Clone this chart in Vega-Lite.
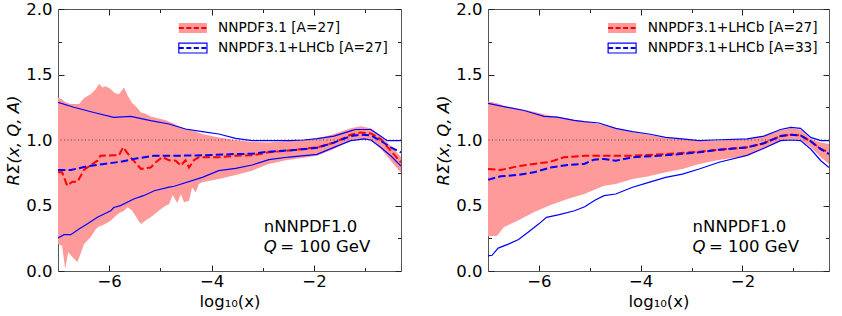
{
"$schema":"https://vega.github.io/schema/vega-lite/v6.json",
"autosize":{"type":"pad"},
"padding":{"left":5,"top":1,"right":5,"bottom":0},
"config":{
 "font":"DejaVu Sans",
 "view":{"stroke":null},
 "axis":{"labelFont":"DejaVu Sans","labelFontSize":16.5,"labelColor":"#000","titleFont":"DejaVu Sans","titleFontSize":16.5,"titleFontWeight":"normal","titleColor":"#000","tickColor":"#222","tickWidth":1,"domainColor":"#555","domainWidth":1,"grid":false,"labelOverlap":false,"labelFlush":false,"zindex":1}
},
"datasets":{
 "band":[
  {"p":"A","x":-7.0,"lo":0.206,"hi":1.325},
  {"p":"A","x":-6.92,"lo":0.193,"hi":1.31},
  {"p":"A","x":-6.86,"lo":0.015,"hi":1.29},
  {"p":"A","x":-6.80,"lo":0.145,"hi":1.28},
  {"p":"A","x":-6.75,"lo":0.12,"hi":1.275},
  {"p":"A","x":-6.72,"lo":0.107,"hi":1.275},
  {"p":"A","x":-6.62,"lo":0.069,"hi":1.275},
  {"p":"A","x":-6.59,"lo":0.10,"hi":1.275},
  {"p":"A","x":-6.49,"lo":0.206,"hi":1.32},
  {"p":"A","x":-6.36,"lo":0.259,"hi":1.35},
  {"p":"A","x":-6.26,"lo":0.32,"hi":1.39},
  {"p":"A","x":-6.20,"lo":0.34,"hi":1.43},
  {"p":"A","x":-6.13,"lo":0.35,"hi":1.40},
  {"p":"A","x":-6.07,"lo":0.36,"hi":1.41},
  {"p":"A","x":-5.97,"lo":0.384,"hi":1.39},
  {"p":"A","x":-5.90,"lo":0.41,"hi":1.36},
  {"p":"A","x":-5.81,"lo":0.44,"hi":1.35},
  {"p":"A","x":-5.71,"lo":0.46,"hi":1.40},
  {"p":"A","x":-5.64,"lo":0.486,"hi":1.34},
  {"p":"A","x":-5.55,"lo":0.46,"hi":1.28},
  {"p":"A","x":-5.51,"lo":0.435,"hi":1.27},
  {"p":"A","x":-5.42,"lo":0.38,"hi":1.23},
  {"p":"A","x":-5.38,"lo":0.359,"hi":1.21},
  {"p":"A","x":-5.29,"lo":0.385,"hi":1.20},
  {"p":"A","x":-5.19,"lo":0.41,"hi":1.18},
  {"p":"A","x":-5.09,"lo":0.44,"hi":1.17},
  {"p":"A","x":-4.99,"lo":0.473,"hi":1.16},
  {"p":"A","x":-4.89,"lo":0.50,"hi":1.15},
  {"p":"A","x":-4.83,"lo":0.51,"hi":1.14},
  {"p":"A","x":-4.76,"lo":0.58,"hi":1.13},
  {"p":"A","x":-4.67,"lo":0.52,"hi":1.11},
  {"p":"A","x":-4.60,"lo":0.588,"hi":1.10},
  {"p":"A","x":-4.54,"lo":0.524,"hi":1.09},
  {"p":"A","x":-4.44,"lo":0.537,"hi":1.08},
  {"p":"A","x":-4.38,"lo":0.639,"hi":1.075},
  {"p":"A","x":-4.31,"lo":0.60,"hi":1.065},
  {"p":"A","x":-4.25,"lo":0.664,"hi":1.055},
  {"p":"A","x":-4.18,"lo":0.677,"hi":1.046},
  {"p":"A","x":-3.86,"lo":0.702,"hi":1.02},
  {"p":"A","x":-3.53,"lo":0.733,"hi":1.0},
  {"p":"A","x":-3.21,"lo":0.766,"hi":0.985},
  {"p":"A","x":-2.88,"lo":0.817,"hi":0.98},
  {"p":"A","x":-2.55,"lo":0.845,"hi":0.99},
  {"p":"A","x":-2.20,"lo":0.865,"hi":1.0},
  {"p":"A","x":-1.94,"lo":0.88,"hi":1.01},
  {"p":"A","x":-1.61,"lo":0.931,"hi":1.046},
  {"p":"A","x":-1.28,"lo":1.0,"hi":1.089},
  {"p":"A","x":-1.09,"lo":1.008,"hi":1.105},
  {"p":"A","x":-0.89,"lo":1.0,"hi":1.089},
  {"p":"A","x":-0.70,"lo":0.937,"hi":1.03},
  {"p":"A","x":-0.50,"lo":0.842,"hi":0.957},
  {"p":"A","x":-0.30,"lo":0.75,"hi":0.87},
  {"p":"B","x":-7.0,"lo":0.265,"hi":1.295},
  {"p":"B","x":-6.82,"lo":0.27,"hi":1.28},
  {"p":"B","x":-6.69,"lo":0.334,"hi":1.262},
  {"p":"B","x":-6.42,"lo":0.384,"hi":1.24},
  {"p":"B","x":-6.10,"lo":0.448,"hi":1.215},
  {"p":"B","x":-5.77,"lo":0.504,"hi":1.186},
  {"p":"B","x":-5.44,"lo":0.55,"hi":1.165},
  {"p":"B","x":-5.11,"lo":0.588,"hi":1.143},
  {"p":"B","x":-4.72,"lo":0.651,"hi":1.115},
  {"p":"B","x":-4.49,"lo":0.664,"hi":1.085},
  {"p":"B","x":-4.16,"lo":0.702,"hi":1.06},
  {"p":"B","x":-3.84,"lo":0.723,"hi":1.04},
  {"p":"B","x":-3.51,"lo":0.753,"hi":1.015},
  {"p":"B","x":-3.18,"lo":0.779,"hi":1.005},
  {"p":"B","x":-2.85,"lo":0.817,"hi":0.995},
  {"p":"B","x":-2.50,"lo":0.845,"hi":0.995},
  {"p":"B","x":-1.91,"lo":0.88,"hi":1.005},
  {"p":"B","x":-1.58,"lo":0.931,"hi":1.03},
  {"p":"B","x":-1.25,"lo":0.995,"hi":1.075},
  {"p":"B","x":-1.05,"lo":1.008,"hi":1.09},
  {"p":"B","x":-0.86,"lo":1.0,"hi":1.08},
  {"p":"B","x":-0.66,"lo":0.944,"hi":1.01},
  {"p":"B","x":-0.46,"lo":0.868,"hi":0.98},
  {"p":"B","x":-0.30,"lo":0.817,"hi":0.97}
 ],
 "line":[
  {"p":"A","s":"bh","x":-7.0,"y":1.288},{"p":"A","s":"bh","x":-6.69,"y":1.25},{"p":"A","s":"bh","x":-6.30,"y":1.21},{"p":"A","s":"bh","x":-5.91,"y":1.173},{"p":"A","s":"bh","x":-5.58,"y":1.18},{"p":"A","s":"bh","x":-5.19,"y":1.148},{"p":"A","s":"bh","x":-4.83,"y":1.122},{"p":"A","s":"bh","x":-4.51,"y":1.084},{"p":"A","s":"bh","x":-4.18,"y":1.064},{"p":"A","s":"bh","x":-3.86,"y":1.046},{"p":"A","s":"bh","x":-3.53,"y":1.013},{"p":"A","s":"bh","x":-3.21,"y":0.995},{"p":"A","s":"bh","x":-2.88,"y":0.995},{"p":"A","s":"bh","x":-2.49,"y":0.995},{"p":"A","s":"bh","x":-2.2,"y":1.0},{"p":"A","s":"bh","x":-1.94,"y":1.01},{"p":"A","s":"bh","x":-1.61,"y":1.03},{"p":"A","s":"bh","x":-1.28,"y":1.07},{"p":"A","s":"bh","x":-1.19,"y":1.08},{"p":"A","s":"bh","x":-0.89,"y":1.08},{"p":"A","s":"bh","x":-0.70,"y":1.03},{"p":"A","s":"bh","x":-0.57,"y":0.995},{"p":"A","s":"bh","x":-0.30,"y":0.995},
  {"p":"A","s":"bl","x":-7.0,"y":0.252},{"p":"A","s":"bl","x":-6.88,"y":0.277},{"p":"A","s":"bl","x":-6.75,"y":0.277},{"p":"A","s":"bl","x":-6.59,"y":0.32},{"p":"A","s":"bl","x":-6.43,"y":0.359},{"p":"A","s":"bl","x":-6.23,"y":0.41},{"p":"A","s":"bl","x":-5.97,"y":0.46},{"p":"A","s":"bl","x":-5.91,"y":0.485},{"p":"A","s":"bl","x":-5.78,"y":0.499},{"p":"A","s":"bl","x":-5.52,"y":0.55},{"p":"A","s":"bl","x":-5.33,"y":0.575},{"p":"A","s":"bl","x":-5.12,"y":0.613},{"p":"A","s":"bl","x":-4.83,"y":0.64},{"p":"A","s":"bl","x":-4.73,"y":0.647},{"p":"A","s":"bl","x":-4.18,"y":0.715},{"p":"A","s":"bl","x":-3.86,"y":0.766},{"p":"A","s":"bl","x":-3.53,"y":0.783},{"p":"A","s":"bl","x":-3.21,"y":0.809},{"p":"A","s":"bl","x":-2.88,"y":0.85},{"p":"A","s":"bl","x":-2.49,"y":0.87},{"p":"A","s":"bl","x":-1.94,"y":0.89},{"p":"A","s":"bl","x":-1.61,"y":0.944},{"p":"A","s":"bl","x":-1.28,"y":0.995},{"p":"A","s":"bl","x":-1.02,"y":1.008},{"p":"A","s":"bl","x":-0.89,"y":1.0},{"p":"A","s":"bl","x":-0.70,"y":0.944},{"p":"A","s":"bl","x":-0.50,"y":0.88},{"p":"A","s":"bl","x":-0.30,"y":0.80},
  {"p":"A","s":"rc","x":-7.0,"y":0.753},{"p":"A","s":"rc","x":-6.92,"y":0.753},{"p":"A","s":"rc","x":-6.82,"y":0.651},{"p":"A","s":"rc","x":-6.72,"y":0.682},{"p":"A","s":"rc","x":-6.62,"y":0.682},{"p":"A","s":"rc","x":-6.49,"y":0.773},{"p":"A","s":"rc","x":-6.23,"y":0.842},{"p":"A","s":"rc","x":-6.17,"y":0.88},{"p":"A","s":"rc","x":-5.91,"y":0.883},{"p":"A","s":"rc","x":-5.81,"y":0.883},{"p":"A","s":"rc","x":-5.73,"y":0.944},{"p":"A","s":"rc","x":-5.58,"y":0.868},{"p":"A","s":"rc","x":-5.38,"y":0.779},{"p":"A","s":"rc","x":-5.19,"y":0.79},{"p":"A","s":"rc","x":-5.09,"y":0.83},{"p":"A","s":"rc","x":-4.96,"y":0.87},{"p":"A","s":"rc","x":-4.83,"y":0.845},{"p":"A","s":"rc","x":-4.70,"y":0.842},{"p":"A","s":"rc","x":-4.60,"y":0.804},{"p":"A","s":"rc","x":-4.51,"y":0.845},{"p":"A","s":"rc","x":-4.44,"y":0.79},{"p":"A","s":"rc","x":-4.34,"y":0.848},{"p":"A","s":"rc","x":-4.25,"y":0.868},{"p":"A","s":"rc","x":-3.86,"y":0.868},{"p":"A","s":"rc","x":-3.53,"y":0.88},{"p":"A","s":"rc","x":-3.21,"y":0.883},{"p":"A","s":"rc","x":-2.88,"y":0.906},{"p":"A","s":"rc","x":-2.49,"y":0.92},{"p":"A","s":"rc","x":-1.94,"y":0.944},{"p":"A","s":"rc","x":-1.61,"y":0.98},{"p":"A","s":"rc","x":-1.28,"y":1.04},{"p":"A","s":"rc","x":-1.09,"y":1.058},{"p":"A","s":"rc","x":-0.89,"y":1.05},{"p":"A","s":"rc","x":-0.70,"y":1.008},{"p":"A","s":"rc","x":-0.50,"y":0.918},{"p":"A","s":"rc","x":-0.30,"y":0.83},
  {"p":"A","s":"bc","x":-7.0,"y":0.771},{"p":"A","s":"bc","x":-6.75,"y":0.771},{"p":"A","s":"bc","x":-6.43,"y":0.799},{"p":"A","s":"bc","x":-6.10,"y":0.817},{"p":"A","s":"bc","x":-5.78,"y":0.834},{"p":"A","s":"bc","x":-5.45,"y":0.86},{"p":"A","s":"bc","x":-5.12,"y":0.88},{"p":"A","s":"bc","x":-4.73,"y":0.88},{"p":"A","s":"bc","x":-4.18,"y":0.883},{"p":"A","s":"bc","x":-3.53,"y":0.893},{"p":"A","s":"bc","x":-3.21,"y":0.895},{"p":"A","s":"bc","x":-2.88,"y":0.911},{"p":"A","s":"bc","x":-2.49,"y":0.92},{"p":"A","s":"bc","x":-1.94,"y":0.94},{"p":"A","s":"bc","x":-1.61,"y":0.98},{"p":"A","s":"bc","x":-1.28,"y":1.03},{"p":"A","s":"bc","x":-1.09,"y":1.04},{"p":"A","s":"bc","x":-0.89,"y":1.035},{"p":"A","s":"bc","x":-0.70,"y":0.995},{"p":"A","s":"bc","x":-0.50,"y":0.944},{"p":"A","s":"bc","x":-0.30,"y":0.905},
  {"p":"B","s":"bh","x":-7.0,"y":1.28},{"p":"B","s":"bh","x":-6.69,"y":1.255},{"p":"B","s":"bh","x":-6.29,"y":1.225},{"p":"B","s":"bh","x":-5.90,"y":1.18},{"p":"B","s":"bh","x":-5.64,"y":1.175},{"p":"B","s":"bh","x":-5.31,"y":1.15},{"p":"B","s":"bh","x":-5.11,"y":1.14},{"p":"B","s":"bh","x":-4.82,"y":1.13},{"p":"B","s":"bh","x":-4.49,"y":1.089},{"p":"B","s":"bh","x":-4.16,"y":1.064},{"p":"B","s":"bh","x":-3.84,"y":1.046},{"p":"B","s":"bh","x":-3.51,"y":1.02},{"p":"B","s":"bh","x":-3.18,"y":1.008},{"p":"B","s":"bh","x":-2.85,"y":0.995},{"p":"B","s":"bh","x":-2.56,"y":1.0},{"p":"B","s":"bh","x":-1.91,"y":1.008},{"p":"B","s":"bh","x":-1.58,"y":1.03},{"p":"B","s":"bh","x":-1.25,"y":1.08},{"p":"B","s":"bh","x":-1.05,"y":1.097},{"p":"B","s":"bh","x":-0.86,"y":1.089},{"p":"B","s":"bh","x":-0.66,"y":1.02},{"p":"B","s":"bh","x":-0.46,"y":0.995},{"p":"B","s":"bh","x":-0.30,"y":0.995},
  {"p":"B","s":"bl","x":-7.0,"y":0.115},{"p":"B","s":"bl","x":-6.92,"y":0.12},{"p":"B","s":"bl","x":-6.8,"y":0.175},{"p":"B","s":"bl","x":-6.6,"y":0.205},{"p":"B","s":"bl","x":-6.4,"y":0.24},{"p":"B","s":"bl","x":-6.2,"y":0.30},{"p":"B","s":"bl","x":-6.0,"y":0.36},{"p":"B","s":"bl","x":-5.85,"y":0.41},{"p":"B","s":"bl","x":-5.6,"y":0.43},{"p":"B","s":"bl","x":-5.3,"y":0.46},{"p":"B","s":"bl","x":-5.1,"y":0.49},{"p":"B","s":"bl","x":-4.9,"y":0.54},{"p":"B","s":"bl","x":-4.72,"y":0.575},{"p":"B","s":"bl","x":-4.49,"y":0.588},{"p":"B","s":"bl","x":-4.16,"y":0.639},{"p":"B","s":"bl","x":-3.84,"y":0.677},{"p":"B","s":"bl","x":-3.51,"y":0.715},{"p":"B","s":"bl","x":-3.18,"y":0.74},{"p":"B","s":"bl","x":-2.85,"y":0.779},{"p":"B","s":"bl","x":-2.46,"y":0.83},{"p":"B","s":"bl","x":-1.91,"y":0.883},{"p":"B","s":"bl","x":-1.58,"y":0.937},{"p":"B","s":"bl","x":-1.25,"y":0.995},{"p":"B","s":"bl","x":-1.05,"y":1.0},{"p":"B","s":"bl","x":-0.86,"y":0.995},{"p":"B","s":"bl","x":-0.66,"y":0.931},{"p":"B","s":"bl","x":-0.46,"y":0.842},{"p":"B","s":"bl","x":-0.30,"y":0.79},
  {"p":"B","s":"rc","x":-7.0,"y":0.779},{"p":"B","s":"rc","x":-6.75,"y":0.771},{"p":"B","s":"rc","x":-6.42,"y":0.799},{"p":"B","s":"rc","x":-6.10,"y":0.817},{"p":"B","s":"rc","x":-5.77,"y":0.834},{"p":"B","s":"rc","x":-5.51,"y":0.868},{"p":"B","s":"rc","x":-5.11,"y":0.88},{"p":"B","s":"rc","x":-4.72,"y":0.88},{"p":"B","s":"rc","x":-4.16,"y":0.88},{"p":"B","s":"rc","x":-3.51,"y":0.893},{"p":"B","s":"rc","x":-2.85,"y":0.911},{"p":"B","s":"rc","x":-2.46,"y":0.926},{"p":"B","s":"rc","x":-1.91,"y":0.944},{"p":"B","s":"rc","x":-1.58,"y":0.975},{"p":"B","s":"rc","x":-1.25,"y":1.03},{"p":"B","s":"rc","x":-1.05,"y":1.04},{"p":"B","s":"rc","x":-0.86,"y":1.035},{"p":"B","s":"rc","x":-0.66,"y":0.99},{"p":"B","s":"rc","x":-0.46,"y":0.931},{"p":"B","s":"rc","x":-0.30,"y":0.906},
  {"p":"B","s":"bc","x":-7.0,"y":0.697},{"p":"B","s":"bc","x":-6.75,"y":0.723},{"p":"B","s":"bc","x":-6.42,"y":0.733},{"p":"B","s":"bc","x":-6.10,"y":0.753},{"p":"B","s":"bc","x":-5.77,"y":0.79},{"p":"B","s":"bc","x":-5.44,"y":0.809},{"p":"B","s":"bc","x":-5.11,"y":0.817},{"p":"B","s":"bc","x":-4.92,"y":0.85},{"p":"B","s":"bc","x":-4.72,"y":0.855},{"p":"B","s":"bc","x":-4.49,"y":0.842},{"p":"B","s":"bc","x":-4.16,"y":0.868},{"p":"B","s":"bc","x":-3.51,"y":0.883},{"p":"B","s":"bc","x":-2.85,"y":0.906},{"p":"B","s":"bc","x":-2.46,"y":0.926},{"p":"B","s":"bc","x":-1.91,"y":0.944},{"p":"B","s":"bc","x":-1.58,"y":0.975},{"p":"B","s":"bc","x":-1.25,"y":1.03},{"p":"B","s":"bc","x":-1.05,"y":1.04},{"p":"B","s":"bc","x":-0.86,"y":1.035},{"p":"B","s":"bc","x":-0.66,"y":0.99},{"p":"B","s":"bc","x":-0.46,"y":0.93},{"p":"B","s":"bc","x":-0.30,"y":0.893}
 ],
 "leg":[
  {"p":"A","k":"r","x1":-4.64,"x2":-4.09,"y1":1.893,"y2":1.817,"yc":1.855,"tx":-3.875,"label":"NNPDF3.1 [A=27]"},
  {"p":"A","k":"b","x1":-4.64,"x2":-4.09,"y1":1.740,"y2":1.664,"yc":1.702,"tx":-3.875,"label":"NNPDF3.1+LHCb [A=27]"},
  {"p":"B","k":"r","x1":-4.64,"x2":-4.09,"y1":1.893,"y2":1.817,"yc":1.855,"tx":-3.86,"label":"NNPDF3.1+LHCb [A=27]"},
  {"p":"B","k":"b","x1":-4.64,"x2":-4.09,"y1":1.740,"y2":1.664,"yc":1.702,"tx":-3.86,"label":"NNPDF3.1+LHCb [A=33]"}
 ],
 "note":[
  {"p":"A","t":"n","x":-2.98,"y":0.336,"label":"nNNPDF1.0"},
  {"p":"A","t":"q","x":-2.98,"y":0.183,"label":"Q"},
  {"p":"A","t":"e","x":-2.66,"y":0.183,"label":"= 100 GeV"},
  {"p":"B","t":"n","x":-2.98,"y":0.336,"label":"nNNPDF1.0"},
  {"p":"B","t":"q","x":-2.98,"y":0.183,"label":"Q"},
  {"p":"B","t":"e","x":-2.66,"y":0.183,"label":"= 100 GeV"}
 ]
},
"hconcat":[
 {
  "width":343,"height":262,
  "resolve":{"axis":{"x":"independent","y":"independent"}},
  "layer":[
   {"data":{"name":"band"},"transform":[{"filter":"datum.p==='A'"}],
    "mark":{"type":"area","color":"#ff9a9a","clip":true},
    "encoding":{
     "x":{"field":"x","type":"quantitative","scale":{"domain":[-7,-0.3],"nice":false,"zero":false},
      "axis":{"orient":"bottom","values":[-6,-5,-4,-3,-2,-1],"format":"d","labelExpr":"datum.value % 2 === 0 ? datum.label : ''","tickSize":{"condition":{"test":"datum.value % 2 === 0","value":-6},"value":-3.5},"labelPadding":8,"title":"log₁₀(x)","titlePadding":1}},
     "y":{"field":"hi","type":"quantitative","scale":{"domain":[0,2],"nice":false,"zero":false},
      "axis":{"orient":"left","values":[0,0.25,0.5,0.75,1,1.25,1.5,1.75,2],"format":".1f","labelExpr":"(datum.value*4) % 2 === 0 ? datum.label : ''","tickSize":{"condition":{"test":"(datum.value*4) % 2 === 0","value":-6},"value":-3.5},"labelPadding":12,"title":"RΣ(x, Q, A)","titleFontStyle":"italic","titlePadding":4}},
     "y2":{"field":"lo"}}},
   {"data":{"name":"band"},"transform":[{"filter":"datum.p==='A'"}],
    "mark":{"type":"point","opacity":0},
    "encoding":{
     "x":{"field":"x","type":"quantitative","axis":{"orient":"top","values":[-6,-5,-4,-3,-2,-1],"labels":false,"title":null,"tickSize":{"condition":{"test":"datum.value % 2 === 0","value":-6},"value":-3.5}}},
     "y":{"field":"hi","type":"quantitative","axis":{"orient":"right","values":[0,0.25,0.5,0.75,1,1.25,1.5,1.75,2],"labels":false,"title":null,"tickSize":{"condition":{"test":"(datum.value*4) % 2 === 0","value":-6},"value":-3.5}}}}},
   {"data":{"values":[{}]},"mark":{"type":"rule","color":"#444","strokeDash":[1,2.5],"strokeWidth":1},
    "encoding":{"y":{"datum":1,"type":"quantitative","axis":null}}},
   {"data":{"name":"line"},"transform":[{"filter":"datum.p==='A' && datum.s==='bh'"}],"mark":{"type":"line","color":"#0000ff","strokeWidth":1.2,"clip":true},
    "encoding":{"x":{"field":"x","type":"quantitative","axis":null},"y":{"field":"y","type":"quantitative","axis":null}}},
   {"data":{"name":"line"},"transform":[{"filter":"datum.p==='A' && datum.s==='bl'"}],"mark":{"type":"line","color":"#0000ff","strokeWidth":1.2,"clip":true},
    "encoding":{"x":{"field":"x","type":"quantitative","axis":null},"y":{"field":"y","type":"quantitative","axis":null}}},
   {"data":{"name":"line"},"transform":[{"filter":"datum.p==='A' && datum.s==='rc'"}],"mark":{"type":"line","color":"#ff0000","strokeWidth":2,"strokeDash":[7.4,3.2],"clip":true},
    "encoding":{"x":{"field":"x","type":"quantitative","axis":null},"y":{"field":"y","type":"quantitative","axis":null}}},
   {"data":{"name":"line"},"transform":[{"filter":"datum.p==='A' && datum.s==='bc'"}],"mark":{"type":"line","color":"#0000ff","strokeWidth":2,"strokeDash":[7.4,3.2],"clip":true},
    "encoding":{"x":{"field":"x","type":"quantitative","axis":null},"y":{"field":"y","type":"quantitative","axis":null}}},
   {"data":{"name":"leg"},"transform":[{"filter":"datum.p==='A' && datum.k==='r'"}],"mark":{"type":"rect","fill":"#ff9a9a"},
    "encoding":{"x":{"field":"x1","type":"quantitative","axis":null},"x2":{"field":"x2"},"y":{"field":"y1","type":"quantitative","axis":null},"y2":{"field":"y2"}}},
   {"data":{"name":"leg"},"transform":[{"filter":"datum.p==='A' && datum.k==='b'"}],"mark":{"type":"rect","fill":"#ffffff","stroke":"#0000ff","strokeWidth":1.2},
    "encoding":{"x":{"field":"x1","type":"quantitative","axis":null},"x2":{"field":"x2"},"y":{"field":"y1","type":"quantitative","axis":null},"y2":{"field":"y2"}}},
   {"data":{"name":"leg"},"transform":[{"filter":"datum.p==='A'"}],"mark":{"type":"rule","strokeWidth":2,"strokeDash":[5,2.5]},
    "encoding":{"x":{"field":"x1","type":"quantitative","axis":null},"x2":{"field":"x2"},"y":{"field":"yc","type":"quantitative","axis":null},
     "color":{"field":"k","type":"nominal","scale":{"domain":["r","b"],"range":["#ff0000","#0000ff"]},"legend":null}}},
   {"data":{"name":"leg"},"transform":[{"filter":"datum.p==='A'"}],"mark":{"type":"text","align":"left","baseline":"middle","fontSize":13.7,"color":"#000"},
    "encoding":{"x":{"field":"tx","type":"quantitative","axis":null},"y":{"field":"yc","type":"quantitative","axis":null},"text":{"field":"label"}}},
   {"data":{"name":"note"},"transform":[{"filter":"datum.p==='A' && datum.t!=='q'"}],"mark":{"type":"text","align":"left","baseline":"middle","fontSize":16.5,"color":"#000"},
    "encoding":{"x":{"field":"x","type":"quantitative","axis":null},"y":{"field":"y","type":"quantitative","axis":null},"text":{"field":"label"}}},
   {"data":{"name":"note"},"transform":[{"filter":"datum.p==='A' && datum.t==='q'"}],"mark":{"type":"text","align":"left","baseline":"middle","fontSize":16.5,"fontStyle":"italic","color":"#000"},
    "encoding":{"x":{"field":"x","type":"quantitative","axis":null},"y":{"field":"y","type":"quantitative","axis":null},"text":{"field":"label"}}}
  ]
 },
 {
  "width":341,"height":262,
  "resolve":{"axis":{"x":"independent","y":"independent"}},
  "layer":[
   {"data":{"name":"band"},"transform":[{"filter":"datum.p==='B'"}],
    "mark":{"type":"area","color":"#ff9a9a","clip":true},
    "encoding":{
     "x":{"field":"x","type":"quantitative","scale":{"domain":[-7,-0.3],"nice":false,"zero":false},
      "axis":{"orient":"bottom","values":[-6,-5,-4,-3,-2,-1],"format":"d","labelExpr":"datum.value % 2 === 0 ? datum.label : ''","tickSize":{"condition":{"test":"datum.value % 2 === 0","value":-6},"value":-3.5},"labelPadding":8,"title":"log₁₀(x)","titlePadding":1}},
     "y":{"field":"hi","type":"quantitative","scale":{"domain":[0,2],"nice":false,"zero":false},
      "axis":{"orient":"left","values":[0,0.25,0.5,0.75,1,1.25,1.5,1.75,2],"format":".1f","labelExpr":"(datum.value*4) % 2 === 0 ? datum.label : ''","tickSize":{"condition":{"test":"(datum.value*4) % 2 === 0","value":-6},"value":-3.5},"labelPadding":12,"title":"RΣ(x, Q, A)","titleFontStyle":"italic","titlePadding":4}},
     "y2":{"field":"lo"}}},
   {"data":{"name":"band"},"transform":[{"filter":"datum.p==='B'"}],
    "mark":{"type":"point","opacity":0},
    "encoding":{
     "x":{"field":"x","type":"quantitative","axis":{"orient":"top","values":[-6,-5,-4,-3,-2,-1],"labels":false,"title":null,"tickSize":{"condition":{"test":"datum.value % 2 === 0","value":-6},"value":-3.5}}},
     "y":{"field":"hi","type":"quantitative","axis":{"orient":"right","values":[0,0.25,0.5,0.75,1,1.25,1.5,1.75,2],"labels":false,"title":null,"tickSize":{"condition":{"test":"(datum.value*4) % 2 === 0","value":-6},"value":-3.5}}}}},
   {"data":{"values":[{}]},"mark":{"type":"rule","color":"#444","strokeDash":[1,2.5],"strokeWidth":1},
    "encoding":{"y":{"datum":1,"type":"quantitative","axis":null}}},
   {"data":{"name":"line"},"transform":[{"filter":"datum.p==='B' && datum.s==='bh'"}],"mark":{"type":"line","color":"#0000ff","strokeWidth":1.2,"clip":true},
    "encoding":{"x":{"field":"x","type":"quantitative","axis":null},"y":{"field":"y","type":"quantitative","axis":null}}},
   {"data":{"name":"line"},"transform":[{"filter":"datum.p==='B' && datum.s==='bl'"}],"mark":{"type":"line","color":"#0000ff","strokeWidth":1.2,"clip":true},
    "encoding":{"x":{"field":"x","type":"quantitative","axis":null},"y":{"field":"y","type":"quantitative","axis":null}}},
   {"data":{"name":"line"},"transform":[{"filter":"datum.p==='B' && datum.s==='rc'"}],"mark":{"type":"line","color":"#ff0000","strokeWidth":2,"strokeDash":[7.4,3.2],"clip":true},
    "encoding":{"x":{"field":"x","type":"quantitative","axis":null},"y":{"field":"y","type":"quantitative","axis":null}}},
   {"data":{"name":"line"},"transform":[{"filter":"datum.p==='B' && datum.s==='bc'"}],"mark":{"type":"line","color":"#0000ff","strokeWidth":2,"strokeDash":[7.4,3.2],"clip":true},
    "encoding":{"x":{"field":"x","type":"quantitative","axis":null},"y":{"field":"y","type":"quantitative","axis":null}}},
   {"data":{"name":"leg"},"transform":[{"filter":"datum.p==='B' && datum.k==='r'"}],"mark":{"type":"rect","fill":"#ff9a9a"},
    "encoding":{"x":{"field":"x1","type":"quantitative","axis":null},"x2":{"field":"x2"},"y":{"field":"y1","type":"quantitative","axis":null},"y2":{"field":"y2"}}},
   {"data":{"name":"leg"},"transform":[{"filter":"datum.p==='B' && datum.k==='b'"}],"mark":{"type":"rect","fill":"#ffffff","stroke":"#0000ff","strokeWidth":1.2},
    "encoding":{"x":{"field":"x1","type":"quantitative","axis":null},"x2":{"field":"x2"},"y":{"field":"y1","type":"quantitative","axis":null},"y2":{"field":"y2"}}},
   {"data":{"name":"leg"},"transform":[{"filter":"datum.p==='B'"}],"mark":{"type":"rule","strokeWidth":2,"strokeDash":[5,2.5]},
    "encoding":{"x":{"field":"x1","type":"quantitative","axis":null},"x2":{"field":"x2"},"y":{"field":"yc","type":"quantitative","axis":null},
     "color":{"field":"k","type":"nominal","scale":{"domain":["r","b"],"range":["#ff0000","#0000ff"]},"legend":null}}},
   {"data":{"name":"leg"},"transform":[{"filter":"datum.p==='B'"}],"mark":{"type":"text","align":"left","baseline":"middle","fontSize":13.7,"color":"#000"},
    "encoding":{"x":{"field":"tx","type":"quantitative","axis":null},"y":{"field":"yc","type":"quantitative","axis":null},"text":{"field":"label"}}},
   {"data":{"name":"note"},"transform":[{"filter":"datum.p==='B' && datum.t!=='q'"}],"mark":{"type":"text","align":"left","baseline":"middle","fontSize":16.5,"color":"#000"},
    "encoding":{"x":{"field":"x","type":"quantitative","axis":null},"y":{"field":"y","type":"quantitative","axis":null},"text":{"field":"label"}}},
   {"data":{"name":"note"},"transform":[{"filter":"datum.p==='B' && datum.t==='q'"}],"mark":{"type":"text","align":"left","baseline":"middle","fontSize":16.5,"fontStyle":"italic","color":"#000"},
    "encoding":{"x":{"field":"x","type":"quantitative","axis":null},"y":{"field":"y","type":"quantitative","axis":null},"text":{"field":"label"}}}
  ]
 }
],
"spacing":31
}
